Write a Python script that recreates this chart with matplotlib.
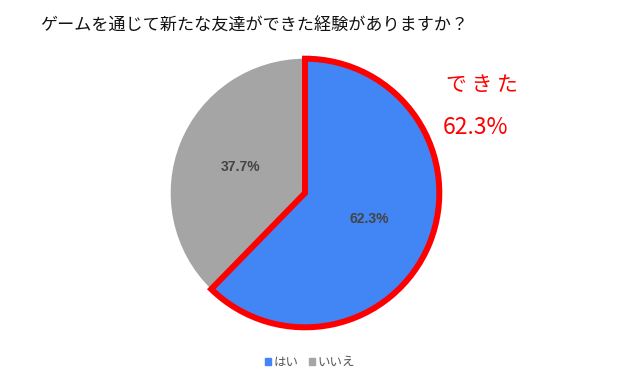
import matplotlib
matplotlib.use("Agg")
import matplotlib.pyplot as plt

plt.rcParams['font.family'] = ['Noto Sans CJK JP', 'DejaVu Sans']

title = "ゲームを通じて新たな友達ができた経験がありますか？"
categories = ["はい", "いいえ"]
values = [62.3, 37.7]
colors = ["#4285F4", "#A5A5A5"]
callout_label = "できた"
callout_value = "62.3%"

fig = plt.figure(figsize=(6.29, 3.92), dpi=100)
fig.patch.set_facecolor("white")

ax = fig.add_axes([168/629, (392-330)/392, 274/629, 274/392])
wedges, texts, autotexts = ax.pie(
    values, colors=colors, startangle=90, counterclock=False,
    autopct=lambda p: f"{p:.1f}%", pctdistance=0.52,
    textprops=dict(color="#444444", fontsize=10, fontweight="bold",
                   family=["Liberation Sans", "DejaVu Sans"]),
    wedgeprops=dict(linewidth=0),
)
ax.set_xlim(-1.02, 1.02)
ax.set_ylim(-1.02, 1.02)
ax.set_aspect("equal")
wedges[0].set_edgecolor("#FF0000")
wedges[0].set_linewidth(4.3)
wedges[0].set_joinstyle("miter")
wedges[0].set_zorder(3)

fig.text(254/629, 1 - 26/392, title, ha="center", va="center", fontsize=12.3, color="#111111")

fig.text(446/629, 1 - 85/392, " ".join(callout_label), ha="left", va="center", fontsize=15, color="#FF0000")
fig.text(443/629, 1 - 127/392, callout_value, ha="left", va="center", fontsize=16.5, color="#FF0000")

handles = [plt.Rectangle((0, 0), 1, 1, color=c) for c in colors]
fig.legend(handles, categories, loc="center", bbox_to_anchor=(310/629, 1 - 362/392),
           ncol=2, frameon=False, fontsize=9, handlelength=0.5, handleheight=0.5,
           handletextpad=0.2, columnspacing=0.8, labelcolor="#555555")

fig.savefig("out.png", dpi=100, facecolor="white")
